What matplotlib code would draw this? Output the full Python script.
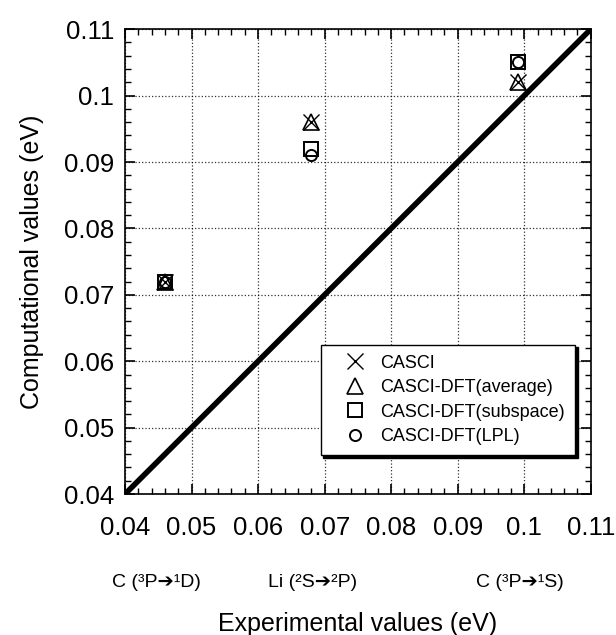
import numpy as np
import matplotlib
matplotlib.use("Agg")
import matplotlib.pyplot as plt
from matplotlib.ticker import MultipleLocator, FormatStrFormatter

plt.rcParams["font.family"] = ["Liberation Sans", "DejaVu Sans"]

# experimental excitation energies (eV)
exp_vals = [0.046, 0.068, 0.099]
transitions = ["C (³P➔¹D)", "Li (²S➔²P)", "C (³P➔¹S)"]
trans_x = [0.0447, 0.0682, 0.0993]

# computational values (eV)
casci = [0.072, 0.096, 0.102]
casci_avg = [0.072, 0.096, 0.102]
casci_sub = [0.072, 0.092, 0.105]
casci_lpl = [0.072, 0.091, 0.105]

diag = [0.04, 0.11]

fig = plt.figure(figsize=(6.16, 6.35), dpi=100)
ax = fig.add_axes([0.203, 0.222, 0.756, 0.732])

ax.plot(diag, diag, c="k", lw=4, solid_capstyle="butt", zorder=2)

ax.plot(exp_vals, casci, ls="none", marker="x", ms=11, mew=1.0, c="k",
        label="CASCI", zorder=3)
ax.plot(exp_vals, casci_avg, ls="none", marker="^", ms=12, mew=1.2, mfc="none",
        c="k", label="CASCI-DFT(average)", zorder=3)
ax.plot(exp_vals, casci_sub, ls="none", marker="s", ms=10, mew=1.4, mfc="none",
        c="k", label="CASCI-DFT(subspace)", zorder=3)
ax.plot(exp_vals, casci_lpl, ls="none", marker="o", ms=8, mew=1.4, mfc="none",
        c="k", label="CASCI-DFT(LPL)", zorder=3)

ax.set_xlim(0.04, 0.11)
ax.set_ylim(0.04, 0.11)
ax.xaxis.set_major_locator(MultipleLocator(0.01))
ax.yaxis.set_major_locator(MultipleLocator(0.01))
ax.xaxis.set_minor_locator(MultipleLocator(0.002))
ax.yaxis.set_minor_locator(MultipleLocator(0.002))
ax.xaxis.set_major_formatter(FormatStrFormatter("%g"))
ax.yaxis.set_major_formatter(FormatStrFormatter("%g"))

ax.tick_params(which="both", direction="in", top=True, right=True, colors="k")
ax.tick_params(which="major", length=7, width=1.2, labelsize=18.5)
ax.tick_params(which="minor", length=4, width=1.0)
ax.tick_params(axis="x", which="major", pad=16)
ax.tick_params(axis="y", which="major", pad=8)
for s in ax.spines.values():
    s.set_linewidth(1.2)

ax.grid(True, which="major", ls=":", c="k", lw=0.9, alpha=0.8)
ax.set_axisbelow(True)

for x, t in zip(trans_x, transitions):
    ax.text(x, -0.19, t, transform=ax.get_xaxis_transform(), ha="center",
            va="center", fontsize=14)

ax.set_xlabel("Experimental values (eV)", fontsize=18, labelpad=52)
ax.set_ylabel("Computational values (eV)", fontsize=18, labelpad=14)

leg = ax.legend(loc="lower right", bbox_to_anchor=(0.985, 0.064), fontsize=13,
                frameon=True, fancybox=False, edgecolor="k", framealpha=1,
                shadow={"color": "k", "alpha": 1}, handletextpad=0.05,
                borderpad=0.55, labelspacing=0.42, handlelength=2.7)
leg.get_frame().set_linewidth(1.0)

fig.savefig("out.png", dpi=100)
